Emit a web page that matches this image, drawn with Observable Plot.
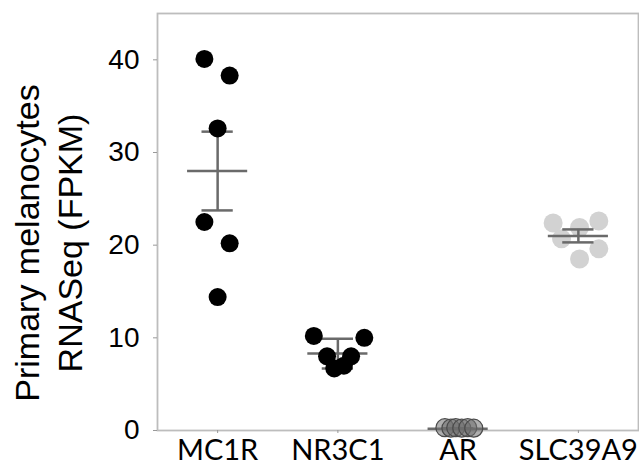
<!DOCTYPE html>
<html>
<head>
<meta charset="utf-8">
<script src="https://cdn.jsdelivr.net/npm/d3@7"></script>
<script src="https://cdn.jsdelivr.net/npm/@observablehq/plot@0.6"></script>
<style>
  html, body { margin: 0; padding: 0; background: #fff; }
  #chart svg { display: block; }
</style>
</head>
<body>
<div id="chart"></div>
<script>
// ---- data ----
const genes = ["MC1R", "NR3C1", "AR", "SLC39A9"];

const mc1rValues    = [40.1, 38.3, 32.6, 22.5, 20.2, 14.4];
const nr3c1Values   = [10.2, 10.0, 8.0, 6.7, 7.0, 8.0];
const arValues      = [0.3, 0.25, 0.3, 0.25, 0.3, 0.25];
const slc39a9Values = [22.4, 21.9, 22.6, 19.6, 18.5, 20.7];

// horizontal swarm offsets (fraction of one category step)
const mc1rJitter    = [-0.11, 0.10, 0, -0.11, 0.10, 0];
const nr3c1Jitter   = [-0.20, 0.22, -0.09, -0.03, 0.05, 0.11];
const arJitter      = [-0.11, -0.06, -0.02, 0.03, 0.08, 0.13];
const slc39a9Jitter = [-0.21, 0.01, 0.17, 0.17, 0.01, -0.14];

// mean ± SEM drawn in the reference
const means = [28.0, 8.3, 0.2, 21.0];
const sems  = [4.25, 1.6, 0.05, 0.7];

const yTicks = [0, 10, 20, 30, 40];
const yLabel1 = "Primary melanocytes";
const yLabel2 = "RNASeq (FPKM)";

// ---- build tables ----
const valueSets = [mc1rValues, nr3c1Values, arValues, slc39a9Values];
const jitterSets = [mc1rJitter, nr3c1Jitter, arJitter, slc39a9Jitter];
const points = [];
genes.forEach((g, i) => valueSets[i].forEach((v, j) =>
  points.push({gene: g, gi: i, pos: i + jitterSets[i][j], value: v})));
const summary = genes.map((g, i) => ({gene: g, gi: i, mean: means[i], lo: means[i] - sems[i], hi: means[i] + sems[i]}));

const meanHalf = 0.25, capHalf = 0.13;
const lineColor = "#6a6a6a";

const chart = Plot.plot({
  width: 639,
  height: 468,
  marginLeft: 157,
  marginRight: 1,
  marginTop: 13,
  marginBottom: 38,
  style: {background: "#fff"},
  x: {type: "linear", domain: [-0.5, genes.length - 0.5]},
  y: {domain: [0, 45]},
  marks: [
    Plot.frame({stroke: "#bdbdbd", strokeWidth: 1.8}),
    Plot.axisY({ticks: yTicks, tickSize: 4, tickPadding: 14, label: null,
      fontSize: 28, fontFamily: "Liberation Sans, Arial, sans-serif", stroke: "#999", color: "#000"}),
    Plot.axisX({ticks: genes.map((_, i) => i), tickFormat: i => genes[i], tickSize: 3, tickPadding: 6,
      label: null, fontSize: 29, fontFamily: "Lato, 'Open Sans', sans-serif", stroke: "#999", color: "#000"}),
    // light dots under the lines
    Plot.dot(points.filter(d => d.gene === "SLC39A9"), {x: "pos", y: "value", r: 9.5, fill: "#d2d2d2"}),
    // error bars
    Plot.ruleY(summary, {y: "mean", x1: d => d.gi - meanHalf, x2: d => d.gi + meanHalf, stroke: lineColor, strokeWidth: 2.5}),
    Plot.ruleY(summary, {y: "hi", x1: d => d.gi - capHalf, x2: d => d.gi + capHalf, stroke: lineColor, strokeWidth: 2.5}),
    Plot.ruleY(summary, {y: "lo", x1: d => d.gi - capHalf, x2: d => d.gi + capHalf, stroke: lineColor, strokeWidth: 2.5}),
    Plot.ruleX(summary, {x: "gi", y1: "lo", y2: "hi", stroke: lineColor, strokeWidth: 2.5}),
    // dark dots
    Plot.dot(points.filter(d => d.gene === "MC1R" || d.gene === "NR3C1"), {x: "pos", y: "value", r: 9, fill: "#000"}),
    Plot.dot(points.filter(d => d.gene === "AR"), {x: "pos", y: "value", r: 9, fill: "#6e6e6e", fillOpacity: 0.55, stroke: "#4a4a4a", strokeWidth: 1.2}),
    // y-axis title
    Plot.text([yLabel1], {frameAnchor: "left", textAnchor: "middle", dx: -129, dy: 21, rotate: -90, fontSize: 34,
      fontFamily: "Liberation Sans, Arial, sans-serif", fill: "#000"}),
    Plot.text([yLabel2], {frameAnchor: "left", textAnchor: "middle", dx: -86, dy: 21, rotate: -90, fontSize: 34,
      fontFamily: "Liberation Sans, Arial, sans-serif", fill: "#000"})
  ]
});
document.getElementById("chart").append(chart);
</script>
</body>
</html>
